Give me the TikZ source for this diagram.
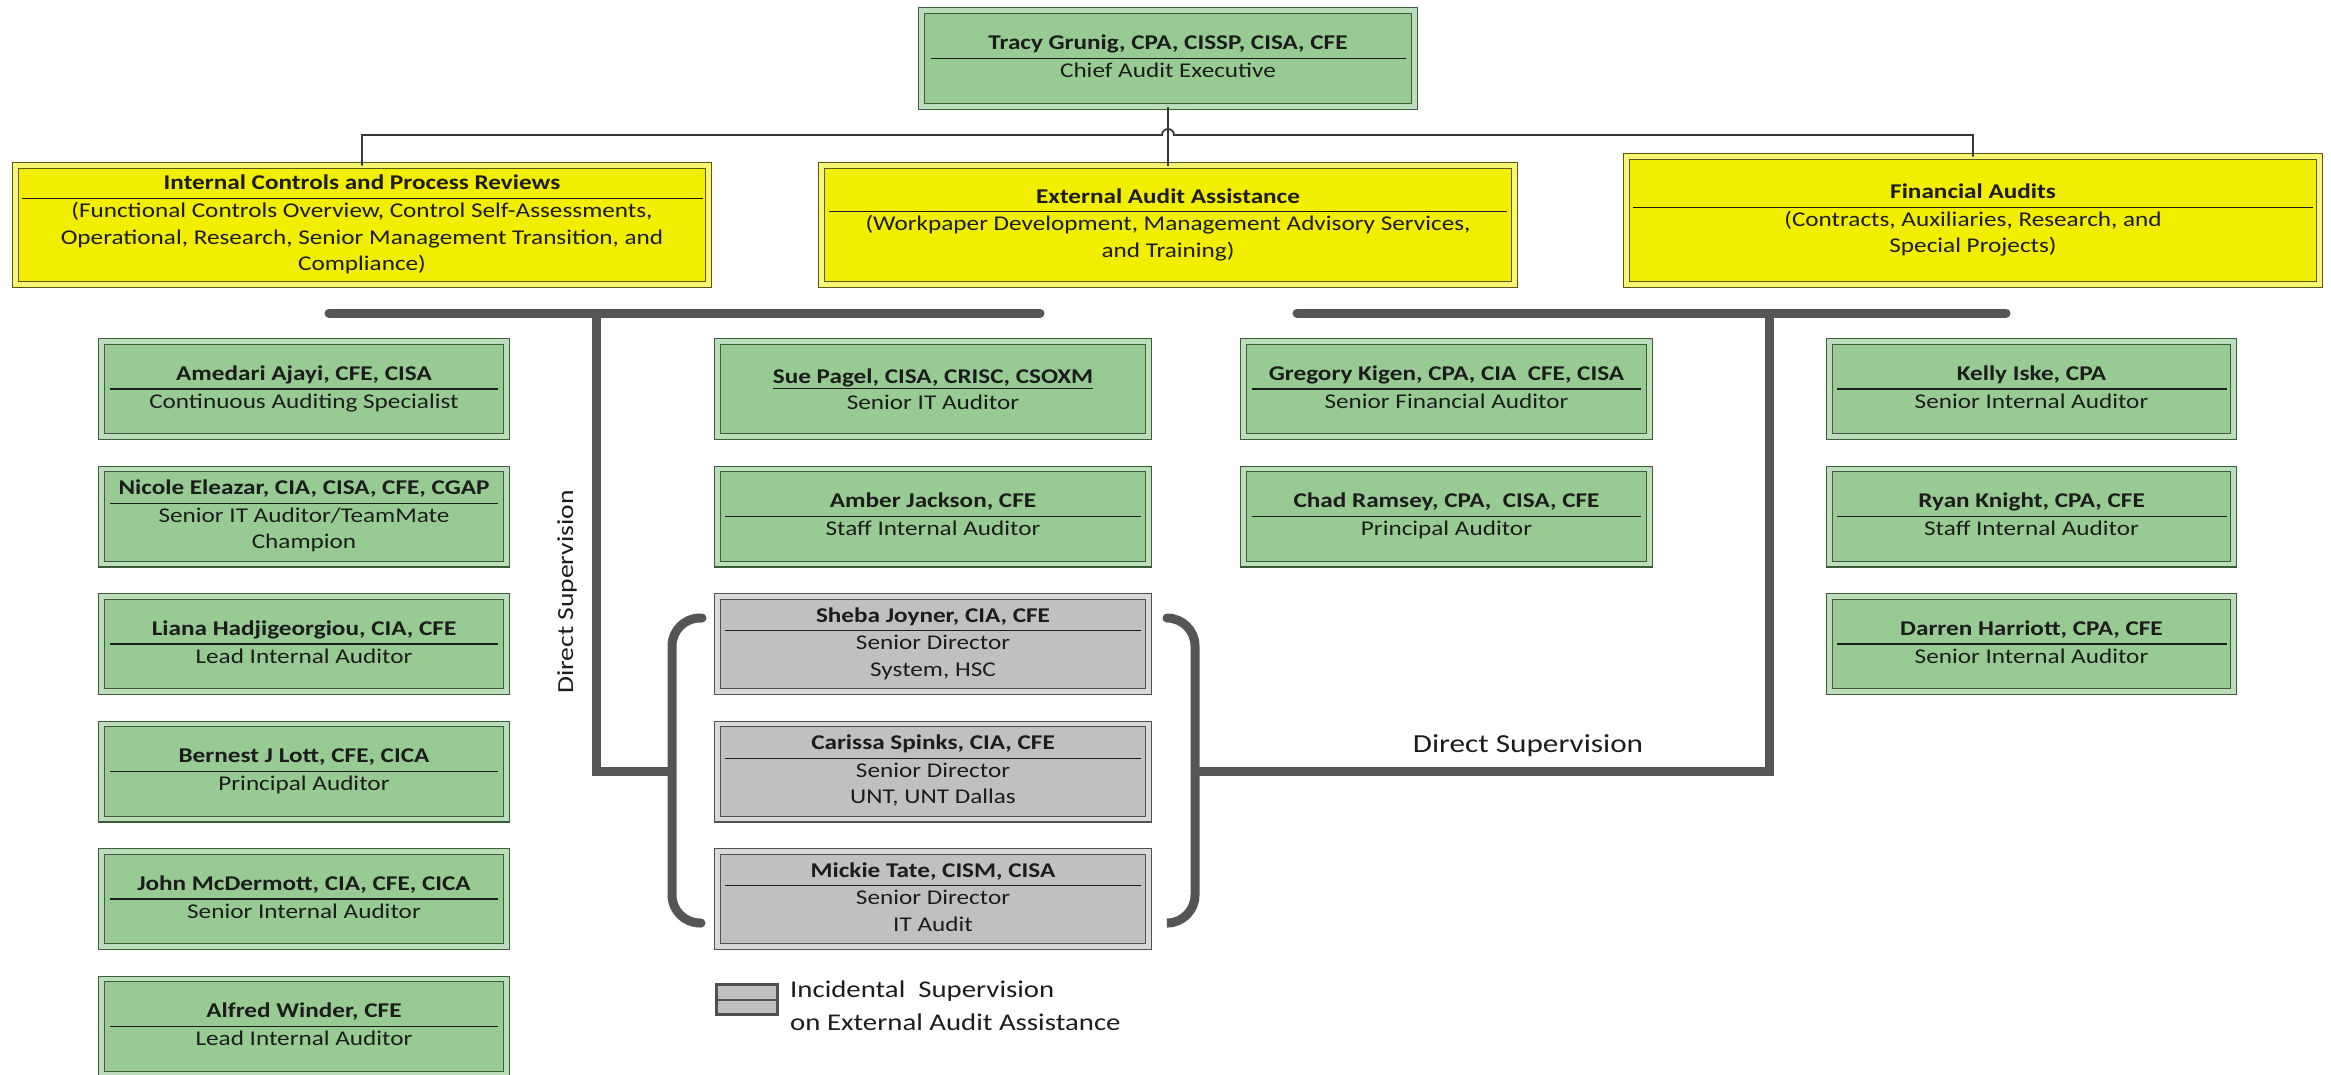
\documentclass[tikz,border=0pt]{standalone}
\usepackage{fontspec}
\setmainfont{Carlito}[FakeStretch=1.2]
\usepackage{array}
\usetikzlibrary{positioning,calc}
\definecolor{staffgreen}{RGB}{152,203,148}
\definecolor{greenedge}{RGB}{60,92,58}
\definecolor{unityellow}{RGB}{242,238,0}
\definecolor{yellowedge}{RGB}{90,88,20}
\definecolor{incgray}{RGB}{192,192,192}
\definecolor{grayedge}{RGB}{80,80,80}
\definecolor{bargray}{RGB}{85,85,85}
\definecolor{linegray}{RGB}{55,55,55}
\definecolor{inkcol}{RGB}{28,28,28}
\setlength{\arrayrulewidth}{1.2pt}
\tikzset{line/.style={draw=linegray, line width=1.8pt}}
\tikzset{bar/.style={draw=bargray, line width=9pt}}
\newcommand{\entry}[3]{\begin{tabular}{@{}>{\centering\arraybackslash}p{#1}@{}}\textbf{#2}\\\hline #3\end{tabular}}

\begin{document}
\begin{tikzpicture}[x=1pt, y=1pt, node distance=32.4pt]
\tikzstyle{card} = [rectangle, draw=greenedge, line width=1.2pt, double=staffgreen!65!white, double distance=4.5pt, fill=staffgreen, text=inkcol, font=\fontsize{21}{26.5}\selectfont, inner sep=0pt, outer sep=0pt, align=center]
\tikzstyle{staff} = [card, minimum width=405pt, minimum height=95.1pt]
\tikzstyle{unit} = [card, draw=yellowedge, double=unityellow!55!white, fill=unityellow, minimum width=693pt, minimum height=119pt]
\tikzstyle{incidental} = [card, draw=grayedge, double=incgray!60!white, fill=incgray, minimum width=431pt, minimum height=95.1pt]
\tikzstyle{bracket} = [draw=bargray, line width=9pt, line cap=round, rounded corners=28pt]
\tikzstyle{note} = [text=inkcol, inner sep=0pt]

\useasboundingbox (0,0) rectangle (2331,-1074);

\node [card, minimum width=493pt, minimum height=96pt] (cae) at (1168,-58.5) {\entry{475pt}{Tracy Grunig, CPA, CISSP, CISA, CFE}{Chief Audit Executive}};

\node [unit] (icpr) at (362,-225) {\entry{681pt}{Internal Controls and Process Reviews}{(Functional Controls Overview, Control Self-Assessments,\\Operational, Research, Senior Management Transition, and\\Compliance)}};
\node [unit] (eaa) at (1168,-225) {\entry{678pt}{External Audit Assistance}{(Workpaper Development, Management Advisory Services,\\and Training)}};
\node [unit, minimum height=128pt] (fa) at (1973,-220.5) {\entry{680pt}{Financial Audits}{(Contracts, Auxiliaries, Research, and\\Special Projects)}};

\node [staff] (ajayi) at (304,-389) {\entry{388pt}{Amedari Ajayi, CFE, CISA}{Continuous Auditing Specialist}};
\node [staff, below=of ajayi] (eleazar) {\entry{388pt}{Nicole Eleazar, CIA, CISA, CFE, CGAP}{Senior IT Auditor/TeamMate\\Champion}};
\node [staff, below=of eleazar] (hadjigeorgiou) {\entry{388pt}{Liana Hadjigeorgiou, CIA, CFE}{Lead Internal Auditor}};
\node [staff, below=of hadjigeorgiou] (lott) {\entry{388pt}{Bernest J Lott, CFE, CICA}{Principal Auditor}};
\node [staff, below=of lott] (mcdermott) {\entry{388pt}{John McDermott, CIA, CFE, CICA}{Senior Internal Auditor}};
\node [staff, below=of mcdermott] (winder) {\entry{388pt}{Alfred Winder, CFE}{Lead Internal Auditor}};

\node [staff, minimum width=431pt] (pagel) at (933,-389) {\underline{\textbf{Sue Pagel, CISA, CRISC, CSOXM}}\\Senior IT Auditor};
\node [staff, minimum width=431pt, below=of pagel] (jackson) {\entry{416pt}{Amber Jackson, CFE}{Staff Internal Auditor}};
\node [incidental, below=of jackson] (joyner) {\entry{416pt}{Sheba Joyner, CIA, CFE}{Senior Director\\System, HSC}};
\node [incidental, below=of joyner] (spinks) {\entry{416pt}{Carissa Spinks, CIA, CFE}{Senior Director\\UNT, UNT Dallas}};
\node [incidental, below=of spinks] (tate) {\entry{416pt}{Mickie Tate, CISM, CISA}{Senior Director\\IT Audit}};

\node [staff, minimum width=406pt] (kigen) at (1446.5,-389) {\entry{389pt}{Gregory Kigen, CPA, CIA\ \ CFE, CISA}{Senior Financial Auditor}};
\node [staff, minimum width=406pt, below=of kigen] (ramsey) {\entry{389pt}{Chad Ramsey, CPA,\ \ CISA, CFE}{Principal Auditor}};

\node [staff, minimum width=404pt] (iske) at (2031.5,-389) {\entry{390pt}{Kelly Iske, CPA}{Senior Internal Auditor}};
\node [staff, minimum width=404pt, below=of iske] (knight) {\entry{390pt}{Ryan Knight, CPA, CFE}{Staff Internal Auditor}};
\node [staff, minimum width=404pt, below=of knight] (harriott) {\entry{390pt}{Darren Harriott, CPA, CFE}{Senior Internal Auditor}};

\coordinate (hop) at (cae.south |- 0,-135);
\draw [line] (icpr.north) |- ($(hop)+(-6,0)$) arc[start angle=180, end angle=0, radius=6pt] -| (fa.north);
\draw [line] (cae.south) -- (eaa.north);

\coordinate (barLw) at (329,-313);
\coordinate (barLe) at (1040,-313);
\coordinate (barRw) at (1297,-313);
\coordinate (barRe) at (2006,-313);
\coordinate (supL) at (596,-313);
\coordinate (supR) at (1769,-313);
\coordinate (brkL) at (672,-771);
\coordinate (brkR) at (1195,-771);

\draw [bar, line cap=round] (barLw) -- (barLe);
\draw [bar, line cap=round] (barRw) -- (barRe);
\draw [bar] (supL) |- (brkL);
\draw [bar] (supR) |- (brkR);

\draw [bracket] (702,-618) -- (brkL |- 0,-618) -- (brkL |- 0,-923) -- (701,-923);
\draw [bracket] (1167,-618) -- (brkR |- 0,-618) -- (brkR |- 0,-923) -- (1168,-923);

\node [note, rotate=90, font=\fontsize{23}{28}\selectfont] (dsleft) at (567,-592) {Direct Supervision};
\node [note, font=\fontsize{26}{31}\selectfont] (dsright) at (1528,-746) {Direct Supervision};

\node [rectangle, draw=grayedge, line width=3pt, fill=incgray, minimum width=61pt, minimum height=30pt, inner sep=0pt] (legend) at (747,-999.5) {};
\draw [draw=grayedge, line width=2pt] (legend.west) -- (legend.east);
\node [note, anchor=west, align=left, font=\fontsize{24}{33}\selectfont] (legendtext) at (790,-1005.5) {Incidental\ \ Supervision\\on External Audit Assistance};

\end{tikzpicture}
\end{document}
